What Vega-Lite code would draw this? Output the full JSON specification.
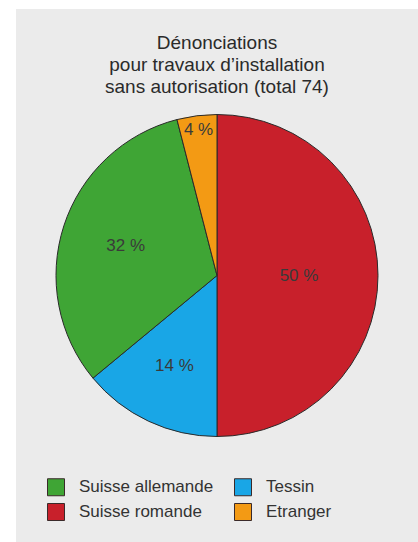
{
  "$schema": "https://vega.github.io/schema/vega-lite/v6.json",
  "width": 418,
  "height": 542,
  "autosize": {"type": "fit", "contains": "padding"},
  "padding": {"left": 16, "top": 9, "right": 0, "bottom": 0},
  "background": "#ffffff",
  "view": {"fill": "#ebebeb", "stroke": null},
  "config": {
    "view": {"fill": "#ebebeb", "stroke": null},
    "font": "Liberation Sans"
  },
  "title": {
    "text": ["Dénonciations", "pour travaux d’installation", "sans autorisation (total 74)"],
    "font": "Liberation Sans",
    "fontSize": 19,
    "fontWeight": "normal",
    "color": "#2a2a2a",
    "lineHeight": 22,
    "anchor": "middle",
    "frame": "group",
    "offset": -88
  },
  "data": {
    "values": [
      {"region": "Suisse romande", "pct": 50, "ord": 1, "label": "50 %"},
      {"region": "Tessin", "pct": 14, "ord": 2, "label": "14 %"},
      {"region": "Suisse allemande", "pct": 32, "ord": 3, "label": "32 %"},
      {"region": "Etranger", "pct": 4, "ord": 4, "label": "4 %"}
    ]
  },
  "encoding": {
    "theta": {"field": "pct", "type": "quantitative", "stack": true},
    "order": {"field": "ord", "type": "quantitative"},
    "color": {
      "field": "region",
      "type": "nominal",
      "scale": {
        "domain": ["Suisse allemande", "Suisse romande", "Tessin", "Etranger"],
        "range": ["#3fa535", "#c8202b", "#19a6e6", "#f39a14"]
      },
      "legend": {
        "title": null,
        "orient": "none",
        "legendX": 31,
        "legendY": 469,
        "columns": 2,
        "columnPadding": 18,
        "rowPadding": 3,
        "padding": 0,
        "symbolType": "square",
        "symbolSize": 289,
        "symbolStrokeColor": "#3a2a2a",
        "symbolStrokeWidth": 1,
        "symbolOpacity": 1,
        "labelFont": "Liberation Sans",
        "labelFontSize": 17,
        "labelColor": "#333333",
        "labelOffset": 14
      }
    }
  },
  "layer": [
    {
      "mark": {"type": "arc", "radius": 161, "stroke": "#2a2a2a", "strokeWidth": 1}
    },
    {
      "mark": {
        "type": "text",
        "radius": {"expr": "datum.pct < 10 ? 147 : (datum.pct >= 50 ? 82 : (datum.pct < 20 ? 100 : 96))"},
        "fontSize": 17,
        "font": "Liberation Sans"
      },
      "encoding": {"text": {"field": "label"}, "color": {"value": "#3a3a3a"}}
    }
  ]
}
